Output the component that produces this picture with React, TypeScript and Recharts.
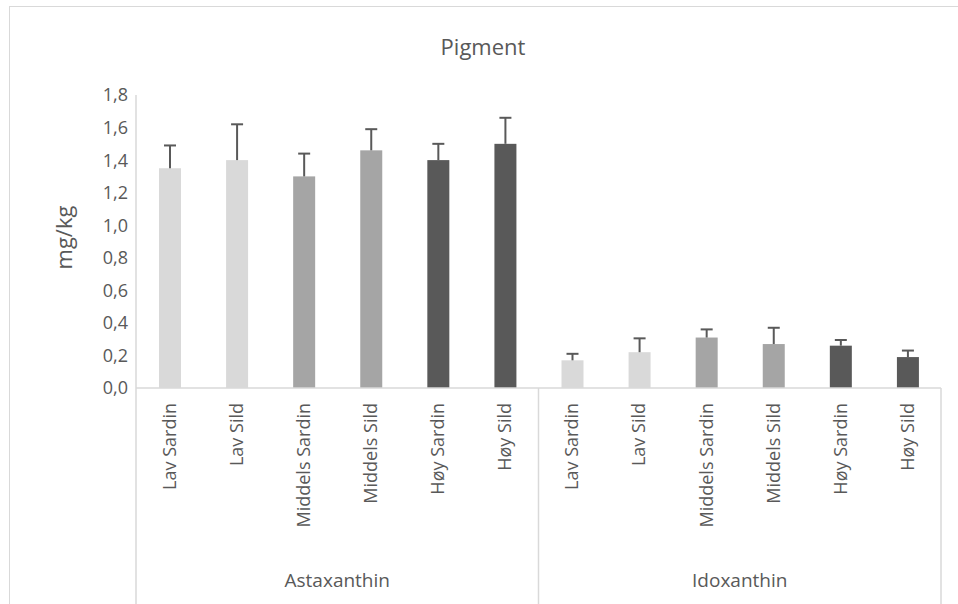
import React from "react";
import { BarChart, Bar, XAxis, YAxis } from "recharts";

const CATEGORIES = ["Lav Sardin", "Lav Sild", "Middels Sardin", "Middels Sild", "Høy Sardin", "Høy Sild"];
const LEVELS = ["Lav", "Lav", "Middels", "Middels", "Høy", "Høy"];
const GROUPS = ["Astaxanthin", "Idoxanthin"];
const ASTA_MEAN = [1.35, 1.4, 1.3, 1.46, 1.4, 1.5];
const ASTA_ERR = [0.14, 0.22, 0.14, 0.13, 0.1, 0.16];
const IDO_MEAN = [0.17, 0.22, 0.31, 0.27, 0.26, 0.19];
const IDO_ERR = [0.04, 0.085, 0.05, 0.1, 0.035, 0.04];
const Y_TICKS = [0, 0.2, 0.4, 0.6, 0.8, 1.0, 1.2, 1.4, 1.6, 1.8];

const COLORS: Record<string, string> = {
  Lav: "#d9d9d9",
  Middels: "#a5a5a5",
  Høy: "#595959",
};

const W = 958;
const H = 604;
const BASE_Y = 388;
const PLOT_LEFT = 136;
const PLOT_RIGHT = 941;
const FONT = "'Open Sans', sans-serif";
const TEXT = "#595959";
const LINE = "#d9d9d9";

const data = [
  ...CATEGORIES.map((name, i) => ({ name, group: GROUPS[0], level: LEVELS[i], value: ASTA_MEAN[i], err: ASTA_ERR[i] })),
  ...CATEGORIES.map((name, i) => ({ name, group: GROUPS[1], level: LEVELS[i], value: IDO_MEAN[i], err: IDO_ERR[i] })),
];

// bar with an upper-only error whisker
const BarWithError = (props: any) => {
  const { x, y, width, height, payload } = props;
  const perUnit = height / payload.value;
  const top = y - payload.err * perUnit;
  const cx = x + width / 2;
  return (
    <g>
      <rect x={x} y={y} width={width} height={height} fill={COLORS[payload.level]} />
      <line x1={cx} x2={cx} y1={y} y2={top} stroke="#595959" strokeWidth={2} />
      <line x1={cx - 6} x2={cx + 6} y1={top} y2={top} stroke="#595959" strokeWidth={2} />
    </g>
  );
};

const NameTick = (props: any) => {
  const { x, payload } = props;
  return (
    <text
      x={0}
      y={0}
      transform={`translate(${x},${BASE_Y + 15}) rotate(-90)`}
      textAnchor="end"
      dy="0.35em"
      fill={TEXT}
      fontSize={18}
      fontFamily={FONT}
    >
      {payload.value}
    </text>
  );
};

const GroupTick = (props: any) => {
  const { x, payload, index } = props;
  const half = (PLOT_RIGHT - PLOT_LEFT) / 4;
  return (
    <g>
      {index === 0 && <line x1={x - half} x2={x - half} y1={BASE_Y} y2={H} stroke={LINE} strokeWidth={1.5} />}
      <line x1={x + half} x2={x + half} y1={BASE_Y} y2={H} stroke={LINE} strokeWidth={1.5} />
      <text x={x} y={587} textAnchor="middle" fill={TEXT} fontSize={19} fontFamily={FONT}>
        {payload.value}
      </text>
    </g>
  );
};

const UnitLabel = (props: any) => {
  const { viewBox } = props;
  const cx = viewBox.x + 4;
  const cy = viewBox.y + viewBox.height / 2 - 4;
  return (
    <text
      x={0}
      y={0}
      transform={`translate(${cx},${cy}) rotate(-90)`}
      textAnchor="middle"
      dy="0.35em"
      fill={TEXT}
      fontSize={22}
      fontFamily={FONT}
    >
      mg/kg
    </text>
  );
};

export default function App() {
  return (
    <div style={{ position: "absolute", left: 0, top: 0, width: W, height: H, overflow: "hidden", background: "#fff" }}>
      <div
        style={{
          position: "absolute",
          left: 9,
          top: 6,
          width: W + 20,
          height: H + 20,
          border: `1.5px solid ${LINE}`,
        }}
      />
      <div
        style={{
          position: "absolute",
          left: 383,
          top: 35,
          width: 200,
          textAlign: "center",
          fontFamily: FONT,
          fontSize: 22,
          lineHeight: "22px",
          color: TEXT,
        }}
      >
        Pigment
      </div>
      <div style={{ position: "absolute", left: 0, top: 0 }}>
        <BarChart
          width={W}
          height={H}
          data={data}
          margin={{ top: 95, right: W - PLOT_RIGHT, left: 60, bottom: 0 }}
          barSize={22}
        >
          <YAxis
            width={PLOT_LEFT - 60}
            domain={[0, 1.8]}
            ticks={Y_TICKS}
            interval={0}
            tickLine={false}
            axisLine={{ stroke: LINE, strokeWidth: 1.5 }}
            tick={{ fill: TEXT, fontSize: 18, fontFamily: FONT }}
            tickFormatter={(v: number) => v.toFixed(1).replace(".", ",")}
            label={<UnitLabel />}
          />
          <XAxis
            dataKey="name"
            height={150}
            interval={0}
            tickLine={false}
            axisLine={{ stroke: LINE, strokeWidth: 1.5 }}
            tick={<NameTick />}
          />
          <XAxis
            xAxisId="group"
            dataKey="group"
            allowDuplicatedCategory={false}
            height={66}
            interval={0}
            tickLine={false}
            axisLine={false}
            tick={<GroupTick />}
          />
          <Bar dataKey="value" shape={<BarWithError />} isAnimationActive={false} />
        </BarChart>
      </div>
    </div>
  );
}
